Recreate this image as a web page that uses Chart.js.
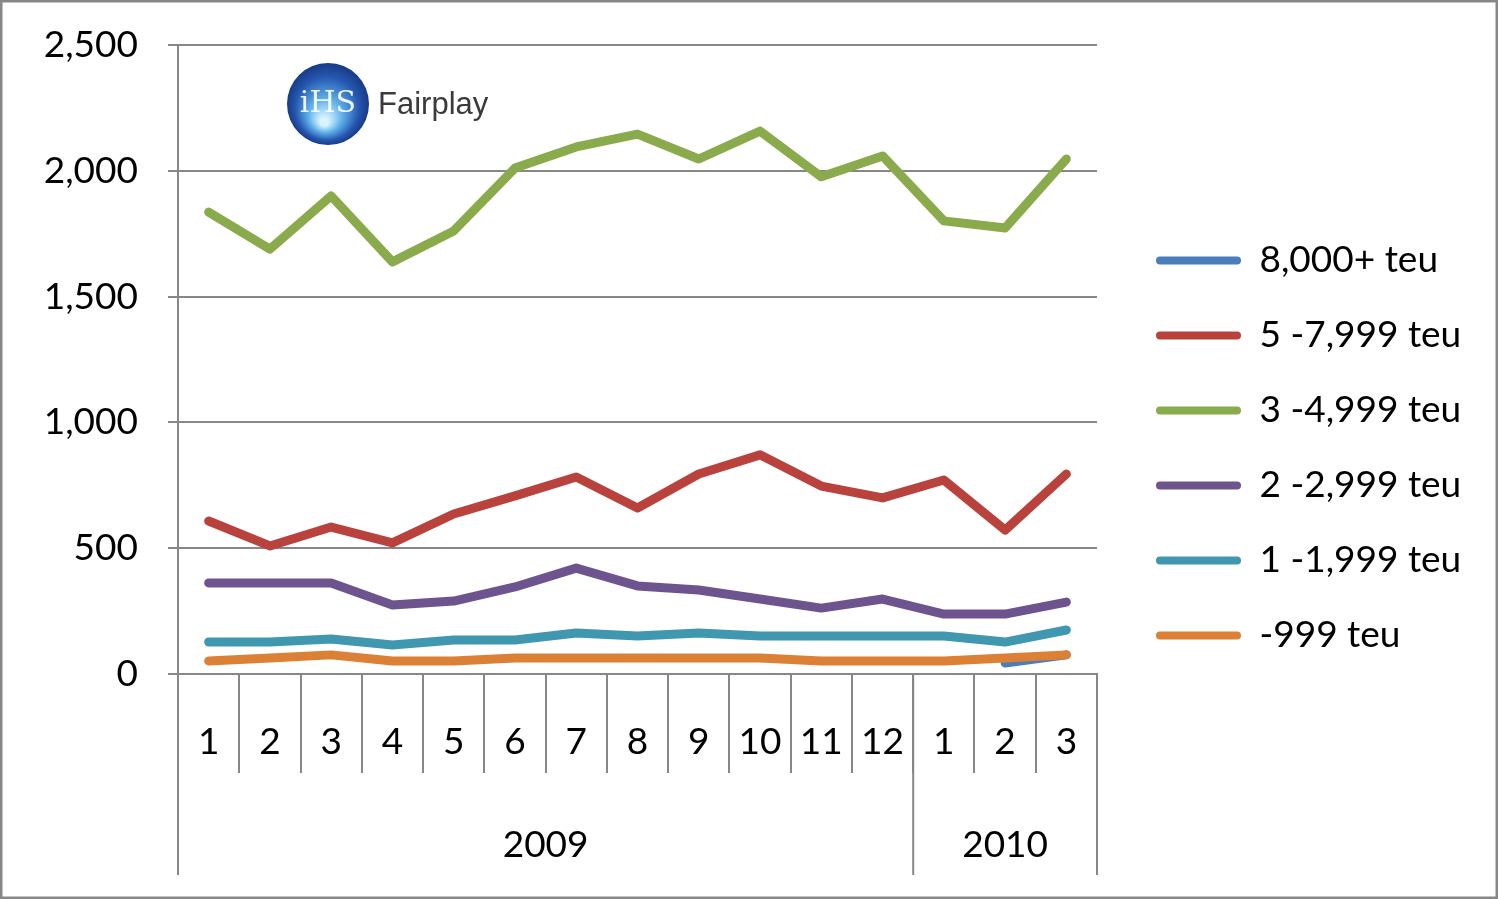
<!DOCTYPE html>
<html>
<head>
<meta charset="utf-8">
<script src="https://cdn.jsdelivr.net/npm/chart.js@4.4.1/dist/chart.umd.min.js"></script>
<style>
  html, body { margin: 0; padding: 0; background: #fff; }
  #wrap { width: 1498px; height: 899px; position: relative; }
</style>
</head>
<body>
<div id="wrap"><canvas id="chart" width="1498" height="899"></canvas></div>
<script>
const months = ["1", "2", "3", "4", "5", "6", "7", "8", "9", "10", "11", "12", "1", "2", "3"];
const yearLabels = ["2009", "2010"];
const yearSpans = [12, 3];

const seriesNames = ["8,000+ teu", "5 -7,999 teu", "3 -4,999 teu", "2 -2,999 teu", "1 -1,999 teu", "-999 teu"];
const teu8000 = [null, null, null, null, null, null, null, null, null, null, null, null, null, 44, 76];
const teu5000 = [608, 509, 584, 521, 636, 708, 783, 660, 795, 871, 747, 700, 771, 572, 795];
const teu3000 = [1836, 1689, 1900, 1638, 1761, 2011, 2095, 2146, 2047, 2158, 1976, 2059, 1801, 1773, 2047];
const teu2000 = [362, 362, 362, 274, 290, 346, 421, 350, 334, 298, 262, 298, 238, 238, 286];
const teu1000 = [127, 127, 139, 115, 135, 135, 163, 151, 163, 151, 151, 151, 151, 127, 175];
const teuSmall = [52, 64, 76, 52, 52, 64, 64, 64, 64, 64, 52, 52, 52, 64, 76];
const colors = ["#4a7ebb", "#b9423d", "#8aab4b", "#6e548e", "#3f97b0", "#dc8036"];

const yTicks = [0, 500, 1000, 1500, 2000, 2500];

const axisGray = "#878787";
const fontFamily = "Lato, 'Liberation Sans', sans-serif";
const fontSize = 37;

const allSeries = [teu8000, teu5000, teu3000, teu2000, teu1000, teuSmall];

const datasets = allSeries.map((vals, i) => ({
  label: seriesNames[i],
  data: vals,
  borderColor: colors[i],
  backgroundColor: colors[i],
  borderWidth: 9,
  pointRadius: 0,
  tension: 0,
  borderCapStyle: "round",
  borderJoinStyle: "round",
  order: allSeries.length - i
}));

// year groups under the month labels
const yearGroups = {
  id: "yearGroups",
  afterDraw(chart) {
    const ctx = chart.ctx;
    const x = chart.scales.x;
    const top = chart.chartArea.bottom;
    const bottom = top + 201;
    const step = x.getPixelForValue(1) - x.getPixelForValue(0);
    ctx.save();
    ctx.strokeStyle = axisGray;
    ctx.lineWidth = 2;
    ctx.fillStyle = "#000";
    ctx.font = fontSize + "px " + fontFamily;
    ctx.textAlign = "center";
    ctx.textBaseline = "middle";
    let start = 0;
    const edges = [x.getPixelForValue(0) - step / 2];
    yearSpans.forEach((span, i) => {
      const end = start + span - 1;
      const left = x.getPixelForValue(start) - step / 2;
      const right = x.getPixelForValue(end) + step / 2;
      edges.push(right);
      ctx.fillText(yearLabels[i], (left + right) / 2, top + 171);
      start += span;
    });
    edges.forEach(e => {
      ctx.beginPath();
      ctx.moveTo(e, top);
      ctx.lineTo(e, bottom);
      ctx.stroke();
    });
    ctx.restore();
  }
};

// IHS Fairplay logo and outer frame
const decor = {
  id: "decor",
  afterInit(chart) {
    const lg = chart.legend;
    const fit = lg.fit.bind(lg);
    lg.fit = function () { fit(); this.width = 380; };
  },
  beforeDatasetsDraw(chart) {
    const ctx = chart.ctx;
    const a = chart.chartArea;
    const cx = a.left + 150, cy = a.top + 59, r = 41;
    ctx.save();
    const g = ctx.createRadialGradient(cx - 4, cy + 18, 4, cx, cy, r);
    g.addColorStop(0, "#d8f4ff");
    g.addColorStop(0.35, "#5fb0e8");
    g.addColorStop(0.75, "#2557b0");
    g.addColorStop(1, "#173b86");
    ctx.fillStyle = g;
    ctx.beginPath();
    ctx.arc(cx, cy, r, 0, Math.PI * 2);
    ctx.fill();
    ctx.fillStyle = "rgba(255,255,255,0.9)";
    ctx.font = "30px 'DejaVu Serif', serif";
    ctx.textAlign = "center";
    ctx.textBaseline = "middle";
    ctx.fillText("iHS", cx, cy);
    ctx.fillStyle = "#3a3a3a";
    ctx.font = "31px 'Liberation Sans', sans-serif";
    ctx.textAlign = "left";
    ctx.fillText("Fairplay", cx + 50, cy + 1);
    ctx.restore();
  },
  afterDraw(chart) {
    const ctx = chart.ctx;
    ctx.save();
    ctx.strokeStyle = axisGray;
    ctx.lineWidth = 3;
    ctx.strokeRect(1, 1, chart.width - 2, chart.height - 2);
    ctx.restore();
  }
};

new Chart(document.getElementById("chart"), {
  type: "line",
  data: { labels: months, datasets: datasets },
  options: {
    responsive: false,
    animation: false,
    spanGaps: false,
    layout: { padding: { top: 21, bottom: 24, left: 0, right: 0 } },
    plugins: {
      tooltip: { enabled: false },
      legend: {
        position: "right",
        labels: {
          boxWidth: 85,
          boxHeight: 8,
          useBorderRadius: true,
          borderRadius: 4,
          padding: 38,
          color: "#000",
          font: { family: fontFamily, size: fontSize },
          sort: (a, b) => a.datasetIndex - b.datasetIndex,
          generateLabels(chart) {
            const items = Chart.defaults.plugins.legend.labels.generateLabels(chart);
            items.forEach(it => {
              it.fillStyle = it.strokeStyle;
              it.lineWidth = 0;
            });
            return items;
          }
        }
      }
    },
    scales: {
      x: {
        offset: true,
        grid: {
          display: true,
          drawOnChartArea: false,
          drawTicks: true,
          tickLength: 99,
          color: axisGray,
          lineWidth: 2,
          offset: true
        },
        border: { display: true, color: axisGray, width: 2 },
        ticks: {
          color: "#000",
          font: { family: fontFamily, size: fontSize },
          padding: -53,
          maxRotation: 0,
          autoSkip: false
        },
        afterFit(scale) { scale.height = 201; }
      },
      y: {
        min: 0,
        max: 2500,
        afterBuildTicks(scale) { scale.ticks = yTicks.map(v => ({ value: v })); },
        grid: { color: axisGray, lineWidth: 2, tickLength: 10 },
        border: { display: true, color: axisGray, width: 2 },
        ticks: {
          color: "#000",
          font: { family: fontFamily, size: fontSize, lineHeight: 1 },
          padding: 30,
          callback: v => v.toLocaleString("en-US")
        },
        afterFit(scale) {
          scale.width = 178;
          scale.paddingTop = 0;
          scale.paddingBottom = 0;
        }
      },
      gapTop: {
        type: "linear",
        axis: "x",
        position: "top",
        display: true,
        grid: { display: false },
        ticks: { display: false },
        border: { display: false },
        afterFit(scale) { scale.height = 24; }
      },
      gap: {
        type: "linear",
        axis: "y",
        position: "right",
        display: true,
        grid: { display: false },
        ticks: { display: false },
        border: { display: false },
        afterFit(scale) { scale.width = 21; }
      }
    }
  },
  plugins: [yearGroups, decor]
});
</script>
</body>
</html>
